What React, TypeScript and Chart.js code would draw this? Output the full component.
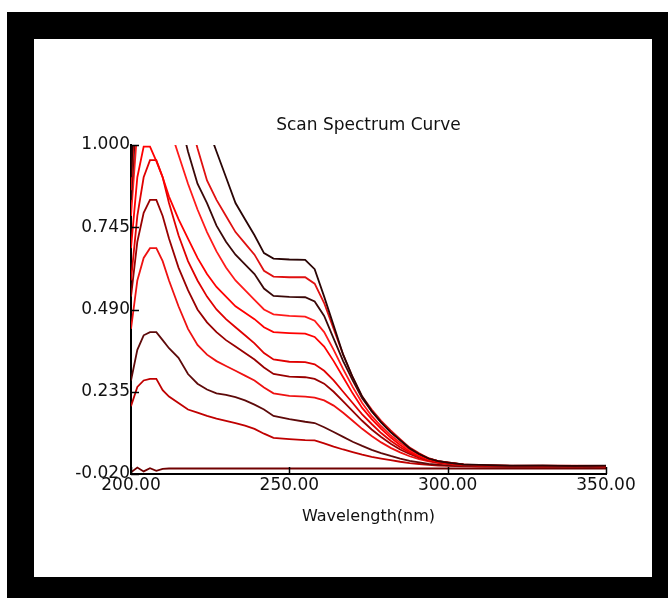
import React, { useEffect, useRef } from "react";
import { Chart, registerables } from "chart.js";

Chart.register(...registerables);

// ---------- data ----------
const WAVELENGTHS = [200, 202, 204, 206, 208, 210, 212, 215, 218, 221, 224, 227, 230, 233, 236, 239, 242, 245, 250, 255, 258, 261, 264, 267, 270, 273, 276, 279, 282, 285, 288, 291, 294, 297, 300, 305, 310, 320, 330, 340, 350];

const SCAN_A = [0.9, 1.3, 1.5, 1.55, 1.55, 1.5, 1.44, 1.34, 1.24, 1.14, 1.06, 0.98, 0.9, 0.82, 0.77, 0.72, 0.665, 0.648, 0.645, 0.644, 0.615, 0.53, 0.44, 0.35, 0.28, 0.22, 0.175, 0.14, 0.11, 0.085, 0.06, 0.042, 0.028, 0.02, 0.015, 0.01, 0.008, 0.006, 0.006, 0.005, 0.006];
const SCAN_B = [0.86, 1.2, 1.4, 1.45, 1.45, 1.4, 1.33, 1.22, 1.1, 0.99, 0.89, 0.83, 0.78, 0.73, 0.695, 0.66, 0.61, 0.592, 0.59, 0.59, 0.57, 0.51, 0.43, 0.35, 0.28, 0.22, 0.18, 0.145, 0.115, 0.088, 0.062, 0.044, 0.029, 0.02, 0.016, 0.01, 0.007, 0.006, 0.005, 0.006, 0.005];
const SCAN_C = [0.83, 1.15, 1.3, 1.35, 1.33, 1.28, 1.2, 1.1, 0.98, 0.88, 0.82, 0.75, 0.7, 0.66, 0.63, 0.6, 0.555, 0.532, 0.529, 0.528, 0.515, 0.47, 0.4, 0.33, 0.27, 0.215, 0.175, 0.14, 0.11, 0.085, 0.06, 0.042, 0.028, 0.02, 0.016, 0.009, 0.007, 0.005, 0.006, 0.004, 0.005];
const SCAN_D = [0.78, 1.05, 1.15, 1.18, 1.16, 1.12, 1.06, 0.97, 0.88, 0.8, 0.73, 0.67, 0.62, 0.58, 0.55, 0.52, 0.49, 0.475, 0.47, 0.468, 0.455, 0.42, 0.365, 0.305, 0.25, 0.2, 0.16, 0.128, 0.1, 0.077, 0.055, 0.039, 0.027, 0.019, 0.015, 0.009, 0.007, 0.005, 0.005, 0.004, 0.005];
const SCAN_E = [0.68, 0.9, 0.995, 0.995, 0.95, 0.9, 0.84, 0.77, 0.71, 0.65, 0.6, 0.56, 0.53, 0.5, 0.48, 0.46, 0.435, 0.42, 0.417, 0.415, 0.405, 0.375, 0.33, 0.28, 0.23, 0.185, 0.15, 0.12, 0.093, 0.07, 0.05, 0.035, 0.025, 0.018, 0.014, 0.009, 0.007, 0.005, 0.006, 0.005, 0.004];
const SCAN_F = [0.58, 0.78, 0.9, 0.953, 0.953, 0.9, 0.82, 0.72, 0.64, 0.58, 0.53, 0.49, 0.46, 0.435, 0.41, 0.385, 0.355, 0.335, 0.328, 0.327, 0.32, 0.3, 0.27, 0.235, 0.2, 0.165, 0.135, 0.107, 0.083, 0.063, 0.046, 0.033, 0.023, 0.017, 0.013, 0.008, 0.006, 0.005, 0.005, 0.004, 0.005];
const SCAN_G = [0.53, 0.7, 0.79, 0.83, 0.83, 0.78, 0.71, 0.62, 0.55, 0.49, 0.45, 0.42, 0.395, 0.375, 0.355, 0.335, 0.31, 0.29, 0.282, 0.28, 0.275, 0.26, 0.235, 0.205, 0.175, 0.145, 0.118, 0.095, 0.074, 0.056, 0.042, 0.031, 0.022, 0.016, 0.012, 0.008, 0.006, 0.005, 0.004, 0.005, 0.004];
const SCAN_H = [0.43, 0.58, 0.65, 0.68, 0.68, 0.64, 0.58, 0.5, 0.43, 0.38, 0.35, 0.33, 0.315, 0.3, 0.285, 0.27, 0.248, 0.23, 0.222, 0.22, 0.217, 0.208, 0.192, 0.17, 0.145, 0.12, 0.098, 0.078, 0.061, 0.047, 0.035, 0.026, 0.019, 0.014, 0.011, 0.007, 0.006, 0.005, 0.004, 0.005, 0.004];
const SCAN_I = [0.27, 0.365, 0.41, 0.42, 0.42, 0.395, 0.37, 0.34, 0.29, 0.26, 0.242, 0.23, 0.225, 0.218, 0.208, 0.195, 0.18, 0.16, 0.15, 0.142, 0.138, 0.125, 0.11, 0.095, 0.08, 0.067, 0.055, 0.045, 0.036, 0.028, 0.021, 0.016, 0.011, 0.009, 0.007, 0.005, 0.004, 0.003, 0.003, 0.003, 0.002];
const SCAN_J = [0.19, 0.25, 0.27, 0.275, 0.275, 0.24, 0.22, 0.2, 0.18, 0.17, 0.16, 0.152, 0.145, 0.138, 0.13, 0.12, 0.105, 0.092, 0.088, 0.085, 0.084, 0.075, 0.065, 0.056, 0.048, 0.04, 0.033, 0.028, 0.023, 0.018, 0.014, 0.011, 0.008, 0.006, 0.005, 0.004, 0.003, 0.002, 0.002, 0.002, 0.002];
const BASELINE = [-0.015, 0.0, -0.012, -0.002, -0.01, -0.004, -0.003, -0.003, -0.003, -0.003, -0.003, -0.003, -0.003, -0.003, -0.003, -0.003, -0.003, -0.003, -0.003, -0.003, -0.003, -0.003, -0.003, -0.003, -0.003, -0.003, -0.003, -0.003, -0.003, -0.003, -0.003, -0.003, -0.003, -0.003, -0.003, -0.003, -0.003, -0.003, -0.003, -0.003, -0.003];

const SERIES = [SCAN_A, SCAN_B, SCAN_C, SCAN_D, SCAN_E, SCAN_F, SCAN_G, SCAN_H, SCAN_I, SCAN_J, BASELINE];
const SERIES_COLORS = ["#2a0505", "#e01010", "#3a0808", "#ff1a1a", "#ff0000", "#e00000", "#990000", "#ee1111", "#5e0a0a", "#c00000", "#700000"];

const X_TICKS = [200, 250, 300, 350];
const Y_TICKS = [-0.02, 0.235, 0.49, 0.745, 1.0];

const TITLE = "Scan Spectrum Curve";
const X_TITLE = "Wavelength(nm)";

const FONT = "'DejaVu Sans', Verdana, sans-serif";

const innerTicks = {
  id: "innerTicks",
  afterDraw(chart: any) {
    const { ctx, chartArea, scales } = chart;
    const x = scales.x;
    const y = scales.y;
    ctx.save();
    ctx.strokeStyle = "#000";
    ctx.lineWidth = 1.5;
    ctx.beginPath();
    x.ticks.forEach((t: any) => {
      const px = Math.round(x.getPixelForValue(t.value)) + 0.5;
      ctx.moveTo(px, chartArea.bottom);
      ctx.lineTo(px, chartArea.bottom - 7);
    });
    y.ticks.forEach((t: any) => {
      const py = Math.round(y.getPixelForValue(t.value)) + 0.5;
      ctx.moveTo(chartArea.left, py);
      ctx.lineTo(chartArea.left + 8, py);
    });
    ctx.stroke();
    ctx.restore();
  },
};

export default function App() {
  const ref = useRef<HTMLCanvasElement | null>(null);

  useEffect(() => {
    if (!ref.current) return;
    const datasets = SERIES.map((vals, i) => ({
      label: i < SERIES.length - 1 ? `Scan ${i + 1}` : "Baseline",
      data: vals.map((v, j) => ({ x: WAVELENGTHS[j], y: v })),
      borderColor: SERIES_COLORS[i],
      backgroundColor: SERIES_COLORS[i],
      borderWidth: 1.8,
      pointRadius: 0,
      tension: 0,
      fill: false,
    }));

    const chart = new Chart(ref.current, {
      type: "line",
      data: { datasets },
      options: {
        animation: false,
        responsive: false,
        devicePixelRatio: 1,
        layout: { padding: { left: 40, right: 62, top: 105, bottom: 0 } },
        plugins: {
          legend: { display: false },
          tooltip: { enabled: false },
          title: { display: false },
        },
        scales: {
          x: {
            type: "linear",
            min: 200,
            max: 350,
            position: "bottom",
            afterBuildTicks: (s: any) => {
              s.ticks = X_TICKS.map((v) => ({ value: v }));
            },
            afterFit: (s: any) => {
              s.height = 598 - 474;
            },
            grid: { display: true, drawOnChartArea: false, drawTicks: false },
            border: { display: true, color: "#000", width: 2 },
            ticks: {
              padding: 1,
              color: "#111",
              font: { family: FONT, size: 17 },
              maxRotation: 0,
              callback: (v: any) => Number(v).toFixed(2),
            },
            title: {
              display: true,
              text: X_TITLE,
              color: "#111",
              font: { family: FONT, size: 16 },
              padding: { top: 0, bottom: 72 },
            },
          },
          xTop: {
            type: "linear",
            min: 200,
            max: 350,
            position: "top",
            afterFit: (s: any) => {
              s.height = 40;
            },
            grid: { display: false },
            border: { display: false },
            ticks: { display: false },
            title: {
              display: true,
              text: TITLE,
              color: "#111",
              font: { family: FONT, size: 17 },
              padding: { top: 10, bottom: 0 },
            },
          },
          y: {
            type: "linear",
            min: -0.02,
            max: 1.0,
            afterBuildTicks: (s: any) => {
              s.ticks = Y_TICKS.map((v) => ({ value: v }));
            },
            afterFit: (s: any) => {
              s.width = 131 - 40;
            },
            grid: { display: true, drawOnChartArea: false, drawTicks: false },
            border: { display: true, color: "#000", width: 2 },
            ticks: {
              padding: 1,
              color: "#111",
              font: { family: FONT, size: 17 },
              callback: (v: any) => Number(v).toFixed(3),
            },
          },
        },
      },
      plugins: [innerTicks],
    });
    return () => chart.destroy();
  }, []);

  return (
    <div style={{ position: "fixed", left: 0, top: 0, width: 668, height: 598, background: "#fff", overflow: "hidden" }}>
      <div style={{ position: "absolute", left: 7, top: 12, width: 661, height: 586, background: "#000" }} />
      <div style={{ position: "absolute", left: 34, top: 39, width: 618, height: 538, background: "#fff" }} />
      <canvas ref={ref} width={668} height={598} style={{ position: "absolute", left: 0, top: 0, width: 668, height: 598 }} />
    </div>
  );
}
